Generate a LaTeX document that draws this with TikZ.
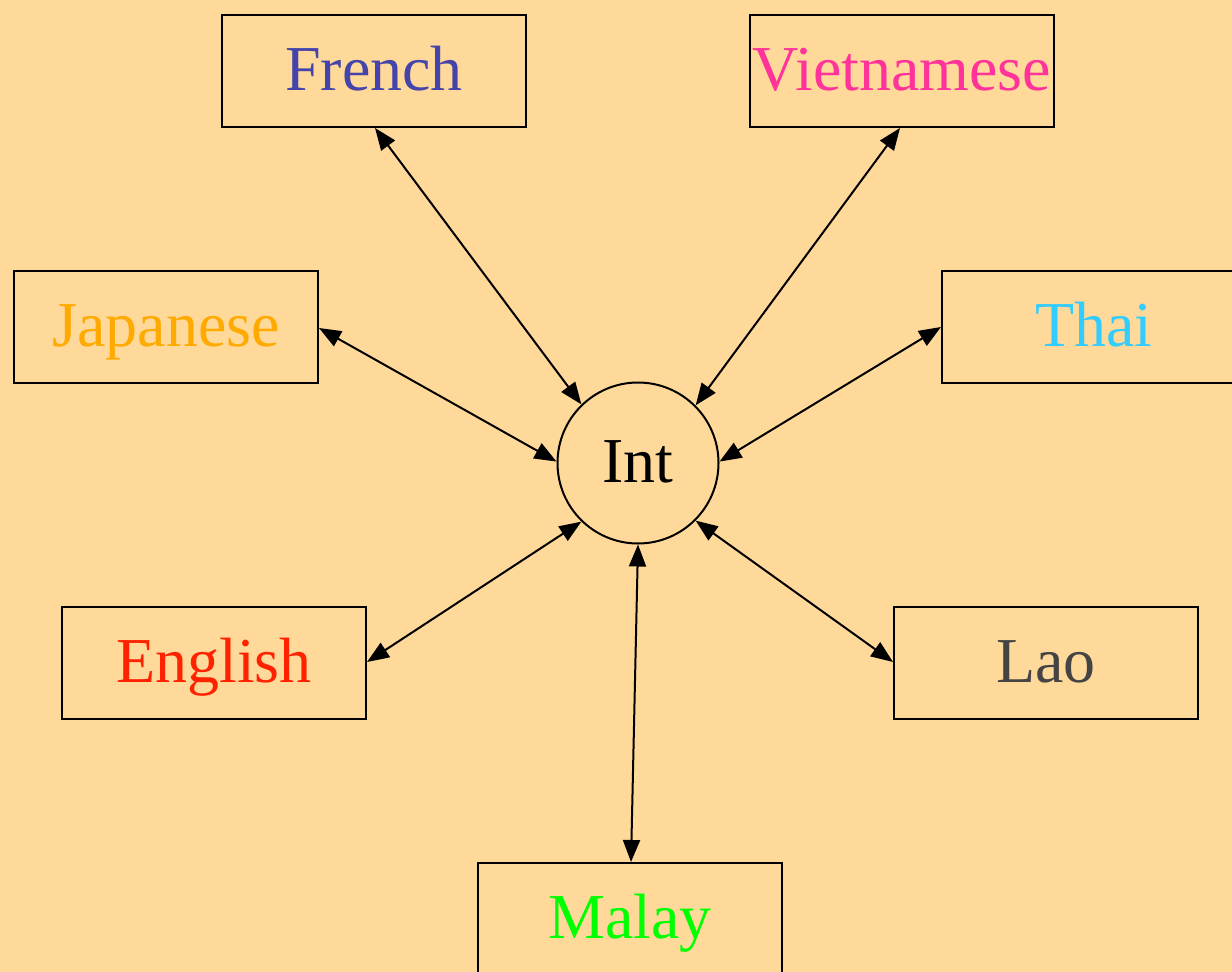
\documentclass[tikz,border=0pt]{standalone}
\usepackage{fontspec}
\setmainfont{Liberation Serif}
\usetikzlibrary{arrows.meta}
\definecolor{bgpaper}{HTML}{FFD99A}
\definecolor{cFrench}{HTML}{4444AA}
\definecolor{cViet}{HTML}{FF3399}
\definecolor{cJapan}{HTML}{FFAA00}
\definecolor{cThai}{HTML}{33CCFF}
\definecolor{cEnglish}{HTML}{FF2200}
\definecolor{cLao}{HTML}{444444}
\definecolor{cMalay}{HTML}{00FF00}
\begin{document}
\begin{tikzpicture}[x=1pt,y=-1pt,
  every node/.style={font=\fontsize{64}{70}\selectfont, text height=48pt, text depth=10pt, inner sep=0pt},
  langbox/.style={draw=black, line width=2pt, rectangle, minimum width=304pt, minimum height=112pt},
  hub/.style={draw=black, line width=2pt, circle, minimum size=161pt},
  link/.style={line width=2pt, {Triangle[length=22pt,width=17pt]}-{Triangle[length=22pt,width=17pt]}}
]
\fill[bgpaper] (0,0) rectangle (1232,972);
\useasboundingbox (0,0) rectangle (1232,972);
\clip (0,0) rectangle (1232,972);

\node[hub] (int) at (638,463) {Int};
\node[langbox, text=cFrench]  (french)  at (374,71)  {French};
\node[langbox, text=cViet]    (viet)    at (902,71)  {Vietnamese};
\node[langbox, text=cJapan]   (japan)   at (166,327) {Japanese};
\node[langbox, text=cThai]    (thai)    at (1094,327) {Thai};
\node[langbox, text=cEnglish] (english) at (214,663) {English};
\node[langbox, text=cLao]     (lao)     at (1046,663) {Lao};
\node[langbox, text=cMalay]   (malay)   at (630,919) {Malay};

\draw[link] ([xshift=1pt]french.south) -- (int.134);
\draw[link] ([xshift=-2pt]viet.south) -- (int.45);
\draw[link] ([yshift=-1pt]japan.east) -- (int.179);
\draw[link] (thai.west) -- (int.1);
\draw[link] ([yshift=1pt]english.east) -- (int.226);
\draw[link] ([yshift=1pt]lao.west) -- (int.315);
\draw[link] ([xshift=1pt]malay.north) -- (int.270);
\end{tikzpicture}
\end{document}
